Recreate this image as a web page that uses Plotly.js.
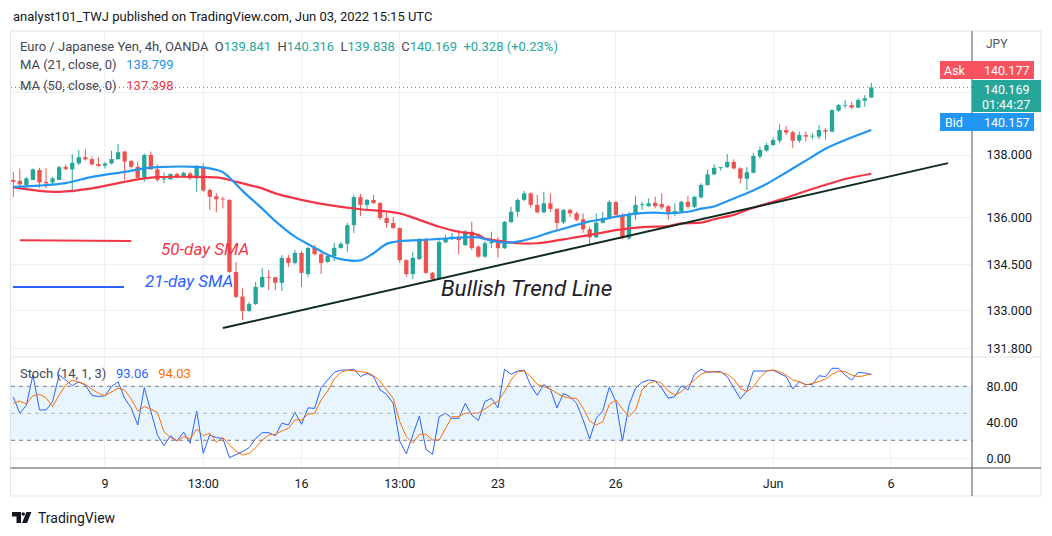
<!DOCTYPE html>
<html><head><meta charset="utf-8">
<script src="https://cdn.plot.ly/plotly-3.0.1.min.js"></script>
<style>html,body{margin:0;padding:0;background:#fff;}#chart{width:1052px;height:536px;}</style>
</head><body><div id="chart"></div>
<script>
// ---------- data ----------
const openP = [137.20,137.17,137.04,137.20,137.52,137.14,137.12,137.20,137.62,137.54,
137.73,137.93,137.87,137.71,137.66,137.73,137.87,138.11,137.81,137.62,
137.28,138.00,137.54,137.22,137.22,137.39,137.30,137.41,137.25,137.61,
136.88,136.68,136.59,136.56,134.25,133.46,133.00,133.22,133.77,134.09,
134.08,133.90,134.70,134.54,134.86,134.18,135.02,134.82,134.57,134.76,
135.02,135.15,135.75,136.65,136.40,136.56,136.46,135.98,135.82,135.66,
134.63,134.18,134.66,135.27,134.22,134.02,135.20,135.33,135.34,135.11,
135.54,135.06,134.74,135.17,135.27,135.01,135.85,136.18,136.56,136.77,
136.40,136.16,136.45,136.27,135.84,136.24,136.13,135.94,135.62,135.36,
135.83,135.97,136.49,136.08,135.33,136.08,136.39,136.36,136.47,136.43,
136.36,136.11,136.18,136.50,136.34,136.64,137.04,137.38,137.58,137.61,
137.78,137.57,137.24,137.43,137.95,138.14,138.32,138.46,138.80,138.73,
138.46,138.64,138.59,138.59,138.80,138.75,139.42,139.58,139.60,139.52,
139.74,139.841];
const highP = [137.46,137.57,137.30,137.57,137.59,137.58,137.30,137.66,137.70,138.03,
138.16,138.19,137.95,137.93,137.77,138.14,138.35,138.14,137.84,137.79,
138.05,138.11,137.70,137.44,137.41,137.44,137.46,137.46,137.68,137.73,
136.93,136.77,136.66,136.58,134.57,133.72,133.29,133.93,134.38,134.31,
134.10,134.79,134.79,134.95,134.92,135.05,135.11,134.86,134.79,135.18,
135.21,135.82,136.72,136.75,136.59,136.72,136.49,136.14,136.01,135.68,
134.66,134.89,135.34,135.34,134.25,135.27,135.43,135.50,135.59,135.59,
135.86,135.11,135.24,135.54,135.38,135.88,136.34,136.61,136.85,136.80,
136.72,136.82,136.77,136.30,136.27,136.27,136.18,136.13,135.70,136.13,
136.18,136.56,136.53,136.13,136.18,136.69,136.50,136.61,136.66,136.77,
136.40,136.45,136.53,136.69,136.69,137.09,137.54,137.71,137.62,138.03,
137.86,137.61,137.61,138.07,138.27,138.39,138.57,138.99,138.93,138.78,
138.75,138.75,138.70,138.96,138.86,139.47,139.64,139.76,139.71,139.82,
139.92,140.316];
const lowP = [136.66,136.95,136.91,137.20,136.95,136.94,137.06,137.20,137.51,136.80,
137.68,137.82,137.66,137.62,137.57,137.70,137.84,137.20,137.57,137.25,
137.14,137.52,137.14,137.09,137.20,137.25,137.27,137.20,136.82,136.82,
136.24,136.16,136.29,134.22,133.41,132.71,132.96,133.19,133.73,133.67,
133.67,133.64,134.41,134.50,133.77,134.09,134.79,134.18,134.54,134.60,
134.99,134.89,135.50,136.04,136.24,136.43,135.92,135.66,135.63,134.54,
134.09,134.02,134.63,134.18,133.96,133.99,135.17,135.27,134.82,135.08,
134.95,134.70,134.70,135.01,134.71,134.99,135.81,136.02,136.52,136.31,
136.13,136.13,136.17,135.59,135.79,136.02,135.88,135.51,135.11,135.33,
135.81,135.94,136.02,135.30,135.27,135.92,136.24,136.34,136.29,136.26,
135.92,136.04,136.15,136.29,136.30,136.61,137.01,137.36,137.50,137.58,
137.54,137.09,136.88,137.41,137.89,138.11,138.29,138.38,138.64,138.23,
138.39,138.43,138.50,138.50,138.50,138.73,139.39,139.50,139.48,139.50,
139.55,139.838];
const closeP = [137.14,137.06,137.25,137.54,137.12,137.09,137.25,137.61,137.55,137.75,
137.93,137.86,137.70,137.65,137.73,137.87,138.09,137.79,137.62,137.27,
138.00,137.54,137.20,137.25,137.39,137.30,137.43,137.25,137.61,136.86,
136.66,136.58,136.57,134.25,133.45,133.00,133.22,133.77,134.09,134.06,
133.90,134.70,134.54,134.86,134.22,135.02,134.82,134.54,134.76,135.02,
135.15,135.75,136.65,136.40,136.56,136.46,135.98,135.82,135.66,134.63,
134.18,134.70,135.31,134.22,134.02,135.21,135.33,135.38,135.27,135.54,
135.02,134.74,135.17,135.22,135.01,135.86,136.18,136.56,136.77,136.40,
136.16,136.45,136.27,135.82,136.24,136.13,135.92,135.62,135.36,135.83,
135.97,136.49,136.08,135.33,136.08,136.40,136.42,136.45,136.36,136.32,
136.15,136.20,136.50,136.34,136.66,137.04,137.38,137.59,137.61,137.78,
137.57,137.25,137.45,137.97,138.16,138.32,138.48,138.80,138.72,138.46,
138.64,138.59,138.62,138.80,138.75,139.44,139.60,139.60,139.52,139.76,
139.82,140.169];

const ma21X = [-14,-10,-6,-2,3,6,8,14,16,18,19,21,24,26,29,32,34,36,39,41,43,45,48,51,55,57,59,61,63,66,68,71,74,76,78,81,84,86,89,91,93,95,98,101,104,107,110,113,117];
const ma21Y = [136.98,137.02,137.10,137.30,137.46,137.57,137.61,137.62,137.57,137.45,137.28,136.85,136.28,135.88,135.38,135.03,134.80,134.66,134.62,134.85,135.15,135.24,135.27,135.31,135.36,135.36,135.25,135.19,135.22,135.38,135.52,135.70,135.87,135.94,136.02,136.12,136.15,136.13,136.18,136.28,136.35,136.52,136.77,137.07,137.44,137.82,138.20,138.48,138.80];
const ma50X = [-14,-10,-7,-2,3,6,8,14,17,19,21,24,26,29,34,39,42,45,48,51,54,56,57,58,61,63,66,71,73,76,78,82,86,88,91,93,96,98,103,108,113,117];
const ma50Y = [136.96,136.85,136.82,136.93,137.14,137.25,137.29,137.30,137.28,137.20,137.09,136.93,136.77,136.61,136.40,136.26,136.21,136.13,135.92,135.70,135.54,135.49,135.43,135.32,135.22,135.17,135.17,135.33,135.40,135.51,135.59,135.69,135.72,135.81,135.83,135.94,136.08,136.24,136.56,136.91,137.23,137.40];

const stochK = [68,50,59,92.5,53.7,53.7,63,92.5,87,80.7,
85,81.4,70,68.5,69.6,79.6,85,66.7,56,37,
78.5,51.8,26,14,25,19,29,16.7,52.6,5.5,
26,23,22,0.7,3.7,7.4,11.8,22,28.5,28.5,
25,39,37,51,37.8,56,55.5,78.5,87,95.5,
98,98,99,90.7,94.4,90.7,76,71,61,19,
5,26,47,10,4.4,46,50,44.4,44.4,61,
48,42,63,66.7,56,99,93.3,97,98,80.7,
70,82,76.7,56,72,68.5,61,42.6,21.4,44.4,
52.6,79.2,63,19,59,77.8,84.4,87,85.9,77.8,
66.7,68.5,80.7,75.9,93.3,99,95.5,96.3,96.3,90.7,
78.5,66,74.8,97,97,97,98,94.4,90.7,77,
85,82,82,91.8,90.7,100,100,92.5,87,95.5,
94.8,93.06];
const stochD = [61,63.7,60.3,69.6,71,67.3,57.3,70.3,81.4,87,
84.4,82.2,77,72.2,69.6,73.3,77.8,75.9,65.9,52.6,
57.3,54.8,51.1,29.6,23,19.6,24,21.4,32.6,25.1,
27.8,17.8,23,14.8,8.1,3.7,5.5,11.8,20.3,25.9,
26.7,30.3,33.3,42.6,42.6,48.9,50,64.8,74.8,88.1,
95.5,98.1,97,96.2,95.5,91.8,85.9,75.9,66.7,40.7,
24,16.7,26.7,26.7,20.3,20.3,33.3,46.2,46.2,50,
50,50,54.8,60,63,74,87,96.3,97,90.7,
82.2,79.6,77,72.2,68.5,66.7,66.7,55.6,41.4,37,
40.7,60,64.8,54.8,46.2,53.7,75.9,83.3,85.9,83.3,
74.8,70.3,74,80.7,87,93.3,96.3,96.3,95.5,93.3,
88.1,77.8,74,79.6,89.6,97,98.1,96.3,92.5,87,
85.2,81.5,83.3,85.2,88.1,93.3,97,96.3,92.5,90.7,
91.8,94.03];

const timeTickPos = [0,15,30,45,60,78,102,120];
const timeTickText = ['9','13:00','16','13:00','23','26','Jun','6'];
const priceTicks = [131.8,133,134.5,136,138,140];
const priceTickText = ['131.800','133.000','134.500','136.000','138.000',''];
const stochTicks = [0,40,80];
const stochTickText = ['0.00','40.00','80.00'];
const stochLevels = [20,50,80];

const trendX = [18,128.7], trendY = [132.45,137.74];
const key50X = [-13,4], key50Y = [135.27,135.24];
const key21X = [-14.05,2.9], key21Y = [133.77,133.77];
const askPrice = '140.177', bidPrice = '140.157', countdown = '01:44:27';
const ma21Last = '138.799', ma50Last = '137.398';
const stochKLast = '93.06', stochDLast = '94.03';

// ---------- build ----------
const UP = '#26a69a', DN = '#ef5350', BLUE = '#2196f3', RED = '#f23645';
const FONT = 'Roboto, "Noto Sans", sans-serif';
const pos = openP.map((_, j) => j - 14);
const isUp = closeP.map((c, j) => c >= openP[j]);
const bodyBase = openP.map((o, j) => Math.min(o, closeP[j]));
const bodyH = openP.map((o, j) => Math.max(Math.abs(closeP[j] - o), 0.028));
function wicks(up) {
  const x = [], y = [];
  pos.forEach((p, j) => { if (isUp[j] === up) { x.push(p, p, null); y.push(highP[j], lowP[j], null); } });
  return {x, y};
}
const wu = wicks(true), wd = wicks(false);
const n = closeP.length;
const lastClose = closeP[n - 1];

const traces = [
  {type:'scatter', mode:'lines', x:wu.x, y:wu.y, line:{color:UP, width:1}, hoverinfo:'skip', xaxis:'x', yaxis:'y'},
  {type:'scatter', mode:'lines', x:wd.x, y:wd.y, line:{color:DN, width:1}, hoverinfo:'skip', xaxis:'x', yaxis:'y'},
  {type:'bar', x:pos, base:bodyBase, y:bodyH, width:0.66, marker:{color:isUp.map(u => u ? UP : DN), line:{width:0}}, xaxis:'x', yaxis:'y', hoverinfo:'skip'},
  {type:'scatter', mode:'lines', x:ma50X, y:ma50Y, line:{color:RED, width:2.2, shape:'spline', smoothing:0.8}, xaxis:'x', yaxis:'y'},
  {type:'scatter', mode:'lines', x:ma21X, y:ma21Y, line:{color:BLUE, width:2.2, shape:'spline', smoothing:0.8}, xaxis:'x', yaxis:'y'},
  {type:'scatter', mode:'lines', x:trendX, y:trendY, line:{color:'#0e2b1f', width:2}, xaxis:'x', yaxis:'y'},
  {type:'scatter', mode:'lines', x:key50X, y:key50Y, line:{color:RED, width:2}, xaxis:'x', yaxis:'y'},
  {type:'scatter', mode:'lines', x:key21X, y:key21Y, line:{color:'#2962ff', width:2}, xaxis:'x', yaxis:'y'},
  {type:'scatter', mode:'lines', x:pos, y:stochK, line:{color:'#2962ff', width:1}, xaxis:'x', yaxis:'y2'},
  {type:'scatter', mode:'lines', x:pos, y:stochD, line:{color:'#ff6d00', width:1}, xaxis:'x', yaxis:'y2'}
];

const Lp = 11, Rp = 972, Tp = 31, Bp = 468;
const PX = x => (x - Lp) / (Rp - Lp);
const PY = y => (Bp - y) / (Bp - Tp);
const GRID = '#edf0f5';
const AXC = '#50535e';

const shapes = [
  {type:'rect', xref:'paper', yref:'y2', x0:0, x1:1, y0:stochLevels[0], y1:stochLevels[2], fillcolor:'rgba(33,150,243,0.1)', line:{width:0}, layer:'below'},
  {type:'line', xref:'paper', yref:'y2', x0:0, x1:1, y0:stochLevels[2], y1:stochLevels[2], line:{color:'#787b86', width:1, dash:'4px,4px'}},
  {type:'line', xref:'paper', yref:'y2', x0:0, x1:1, y0:stochLevels[1], y1:stochLevels[1], line:{color:'#b2b5be', width:1, dash:'4px,4px'}},
  {type:'line', xref:'paper', yref:'y2', x0:0, x1:1, y0:stochLevels[0], y1:stochLevels[0], line:{color:'#787b86', width:1, dash:'4px,4px'}},
  {type:'line', xref:'paper', yref:'y', x0:0, x1:1, y0:lastClose, y1:lastClose, line:{color:UP, width:1, dash:'1px,3px'}},
  // frame
  {type:'rect', xref:'paper', yref:'paper', x0:PX(10.5), x1:PX(1041), y0:PY(496), y1:PY(31), line:{color:'#e0e3eb', width:1}, layer:'below'},
  {type:'line', xref:'paper', yref:'paper', x0:PX(10.5), x1:PX(1041), y0:PY(357), y1:PY(357), line:{color:'#e0e3eb', width:1}},
  {type:'line', xref:'paper', yref:'paper', x0:PX(10.5), x1:PX(1041), y0:PY(468), y1:PY(468), line:{color:AXC, width:1}},
  {type:'line', xref:'paper', yref:'paper', x0:PX(972), x1:PX(972), y0:PY(31), y1:PY(496), line:{color:AXC, width:1}},
  // price labels
  {type:'rect', xref:'paper', yref:'paper', x0:PX(940), x1:PX(1034), y0:PY(79), y1:PY(61), fillcolor:'#f7525f', line:{width:0}},
  {type:'rect', xref:'paper', yref:'paper', x0:PX(972), x1:PX(1041), y0:PY(112), y1:PY(80), fillcolor:UP, line:{width:0}},
  {type:'rect', xref:'paper', yref:'paper', x0:PX(940), x1:PX(1034), y0:PY(131), y1:PY(113), fillcolor:BLUE, line:{width:0}}
];
// TradingView logo (footer)
function pathPx(pts) { return 'M' + pts.map(p => PX(p[0]) + ',' + PY(p[1])).join(' L') + ' Z'; }
shapes.push({type:'path', xref:'paper', yref:'paper', path:pathPx([[12,512],[21,512],[21,523],[16.5,523],[16.5,516.5],[12,516.5]]), fillcolor:'#131722', line:{width:0}});
shapes.push({type:'circle', xref:'paper', yref:'paper', x0:PX(21.5), x1:PX(25), y0:PY(515.8), y1:PY(512.2), fillcolor:'#131722', line:{width:0}});
shapes.push({type:'path', xref:'paper', yref:'paper', path:pathPx([[26.5,512],[31.5,512],[27,523],[22,523]]), fillcolor:'#131722', line:{width:0}});

const g = '#434651';
const sp = '\u00a0\u00a0';
const sp3 = '\u00a0\u00a0\u00a0';
const W = s => '<span style="color:#ffffff">' + s + '</span>';
const LF = 13;
const annotations = [
  {xref:'paper', yref:'paper', x:PX(11), y:PY(16), xanchor:'left', yanchor:'middle', showarrow:false,
   text:'analyst101_TWJ published on TradingView.com, Jun 03, 2022 15:15 UTC', font:{family:FONT, size:13, color:'#131722'}},
  {xref:'paper', yref:'paper', x:PX(18), y:PY(46), xanchor:'left', yanchor:'middle', showarrow:false,
   text:'Euro / Japanese Yen, 4h, OANDA' + sp + 'O<span style="color:#26a69a">' + openP[n-1].toFixed(3) + '</span>' + sp +
        'H<span style="color:#26a69a">' + highP[n-1].toFixed(3) + '</span>' + sp +
        'L<span style="color:#26a69a">' + lowP[n-1].toFixed(3) + '</span>' + sp +
        'C<span style="color:#26a69a">' + lastClose.toFixed(3) + '</span>' + sp +
        '<span style="color:#26a69a">+0.328 (+0.23%)</span>', font:{family:FONT, size:LF, color:g}},
  {xref:'paper', yref:'paper', x:PX(18), y:PY(65), xanchor:'left', yanchor:'middle', showarrow:false,
   text:'MA (21, close, 0)' + sp3 + '<span style="color:' + BLUE + '">' + ma21Last + '</span>', font:{family:FONT, size:LF, color:g}},
  {xref:'paper', yref:'paper', x:PX(18), y:PY(85), xanchor:'left', yanchor:'middle', showarrow:false,
   text:'MA (50, close, 0)' + sp3 + '<span style="color:' + RED + '">' + ma50Last + '</span>', font:{family:FONT, size:LF, color:g}},
  {xref:'paper', yref:'paper', x:PX(18), y:PY(373), xanchor:'left', yanchor:'middle', showarrow:false,
   text:'Stoch (14, 1, 3)' + sp3 + '<span style="color:#2962ff">' + stochKLast + '</span>' + sp3 + '<span style="color:#ff6d00">' + stochDLast + '</span>', font:{family:FONT, size:LF, color:g}},
  {xref:'paper', yref:'paper', x:PX(984), y:PY(44), xanchor:'left', yanchor:'middle', showarrow:false, text:'JPY', font:{family:FONT, size:12, color:'#50535e'}},
  {xref:'paper', yref:'paper', x:PX(955), y:PY(70), xanchor:'center', yanchor:'middle', showarrow:false, text:W('Ask'), font:{family:FONT, size:12.5, color:'#fff'}},
  {xref:'paper', yref:'paper', x:PX(1006), y:PY(70), xanchor:'center', yanchor:'middle', showarrow:false, text:W(askPrice), font:{family:FONT, size:12.5, color:'#fff'}},
  {xref:'paper', yref:'paper', x:PX(1006), y:PY(89), xanchor:'center', yanchor:'middle', showarrow:false, text:W(lastClose.toFixed(3)), font:{family:FONT, size:12.5, color:'#fff'}},
  {xref:'paper', yref:'paper', x:PX(1006), y:PY(104), xanchor:'center', yanchor:'middle', showarrow:false, text:W(countdown), font:{family:FONT, size:12.5, color:'#fff'}},
  {xref:'paper', yref:'paper', x:PX(954), y:PY(122), xanchor:'center', yanchor:'middle', showarrow:false, text:W('Bid'), font:{family:FONT, size:12.5, color:'#fff'}},
  {xref:'paper', yref:'paper', x:PX(1006), y:PY(122), xanchor:'center', yanchor:'middle', showarrow:false, text:W(bidPrice), font:{family:FONT, size:12.5, color:'#fff'}},
  {xref:'x', yref:'y', x:15.3, y:135.0, xanchor:'center', yanchor:'middle', showarrow:false, text:'<i>50-day SMA</i>', font:{family:FONT, size:17, color:RED}},
  {xref:'x', yref:'y', x:12.9, y:133.96, xanchor:'center', yanchor:'middle', showarrow:false, text:'<i>21-day SMA</i>', font:{family:FONT, size:17, color:'#2962ff'}},
  {xref:'x', yref:'y', x:64.4, y:133.75, xanchor:'center', yanchor:'middle', showarrow:false, text:'<i>Bullish Trend Line</i>', font:{family:FONT, size:22.5, color:'#1e222d'}},
  {xref:'paper', yref:'paper', x:PX(36), y:PY(518), xanchor:'left', yanchor:'middle', showarrow:false, text:'TradingView', font:{family:FONT, size:14, color:'#131722'}}
];

const layout = {
  width:1052, height:536,
  margin:{l:Lp, r:1052-Rp, t:Tp, b:536-Bp, pad:0},
  paper_bgcolor:'#ffffff', plot_bgcolor:'#ffffff',
  showlegend:false, hovermode:false,
  font:{family:FONT, size:12, color:'#131722'},
  xaxis:{anchor:'y2', range:[-14.35, 132.37], tickvals:timeTickPos, ticktext:timeTickText,
    ticks:'outside', ticklen:4, tickcolor:'rgba(0,0,0,0)', showgrid:true, gridcolor:GRID, gridwidth:1,
    zeroline:false, showline:false, tickfont:{family:FONT, size:12.5, color:'#131722'}, fixedrange:true},
  yaxis:{domain:[0.254, 1], anchor:'x', side:'right', range:[131.522, 141.977], tickvals:priceTicks, ticktext:priceTickText,
    ticks:'outside', ticklen:11, tickcolor:'rgba(0,0,0,0)', showgrid:true, gridcolor:GRID, zeroline:false, showline:false,
    tickfont:{family:FONT, size:12.5, color:'#131722'}, fixedrange:true},
  yaxis2:{domain:[0, 0.252], anchor:'x', side:'right', range:[-10.8, 111.6], tickvals:stochTicks, ticktext:stochTickText,
    ticks:'outside', ticklen:11, tickcolor:'rgba(0,0,0,0)', showgrid:true, gridcolor:GRID, zeroline:false, showline:false,
    tickfont:{family:FONT, size:12.5, color:'#131722'}, fixedrange:true},
  shapes:shapes, annotations:annotations
};
Plotly.newPlot('chart', traces, layout, {displayModeBar:false, staticPlot:true});
</script></body></html>
